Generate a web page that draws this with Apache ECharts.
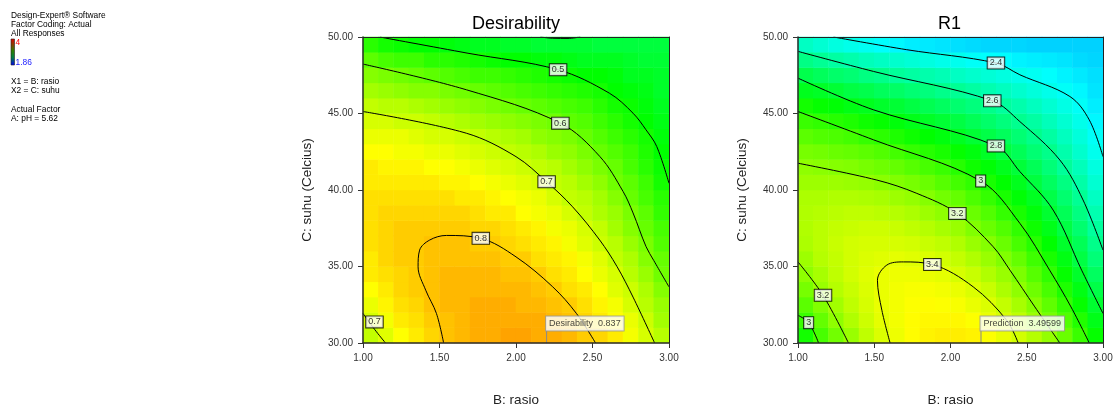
<!DOCTYPE html>
<html>
<head>
<meta charset="utf-8">
<script src="https://cdn.jsdelivr.net/npm/echarts@6/dist/echarts.min.js"></script>
<style>html,body{margin:0;padding:0;background:#fff}#chart{width:1114px;height:407px}</style>
</head>
<body>
<div id="chart"></div>
<script>
// ---- cell centres of the response grids (B: rasio, C: suhu) ----
const xCenters = [1.05,1.15,1.25,1.35,1.45,1.55,1.65,1.75,1.85,1.95,2.05,2.15,2.25,2.35,2.45,2.55,2.65,2.75,2.85,2.95];
const yCenters = [30.5,31.5,32.5,33.5,34.5,35.5,36.5,37.5,38.5,39.5,40.5,41.5,42.5,43.5,44.5,45.5,46.5,47.5,48.5,49.5];
const xTicks = [1.0, 1.5, 2.0, 2.5, 3.0];
const yTicks = [30, 35, 40, 45, 50];

// ---- R1 values, one list per x cell, bottom (30) -> top (50) ----
const r1Cols = [
[2.97,3.05,3.12,3.18,3.23,3.26,3.29,3.30,3.30,3.29,3.26,3.23,3.18,3.12,3.05,2.97,2.87,2.77,2.65,2.52],
[3.08,3.14,3.20,3.25,3.28,3.31,3.32,3.32,3.31,3.29,3.26,3.22,3.17,3.10,3.03,2.94,2.85,2.74,2.62,2.49],
[3.17,3.23,3.27,3.31,3.33,3.34,3.35,3.34,3.32,3.30,3.26,3.21,3.15,3.09,3.01,2.92,2.82,2.71,2.59,2.46],
[3.25,3.30,3.33,3.35,3.37,3.37,3.37,3.35,3.33,3.30,3.25,3.20,3.14,3.07,2.99,2.89,2.79,2.69,2.57,2.44],
[3.33,3.36,3.38,3.39,3.40,3.39,3.38,3.36,3.33,3.29,3.24,3.18,3.12,3.04,2.96,2.87,2.77,2.66,2.54,2.42],
[3.39,3.41,3.42,3.42,3.42,3.40,3.38,3.36,3.32,3.28,3.22,3.16,3.10,3.02,2.94,2.84,2.74,2.64,2.52,2.40],
[3.43,3.44,3.44,3.44,3.43,3.41,3.38,3.35,3.31,3.26,3.20,3.14,3.07,2.99,2.91,2.82,2.72,2.61,2.50,2.38],
[3.47,3.47,3.46,3.45,3.43,3.40,3.37,3.33,3.29,3.24,3.18,3.11,3.04,2.96,2.88,2.79,2.69,2.59,2.48,2.36],
[3.49,3.48,3.47,3.45,3.42,3.39,3.35,3.31,3.26,3.21,3.15,3.08,3.01,2.93,2.85,2.76,2.67,2.57,2.46,2.35],
[3.50,3.48,3.46,3.44,3.41,3.37,3.33,3.28,3.23,3.17,3.11,3.05,2.98,2.90,2.82,2.73,2.64,2.55,2.44,2.34],
[3.50,3.48,3.45,3.42,3.38,3.34,3.30,3.25,3.19,3.14,3.07,3.01,2.94,2.86,2.79,2.70,2.62,2.52,2.43,2.33],
[3.49,3.46,3.42,3.39,3.35,3.30,3.25,3.20,3.15,3.09,3.03,2.96,2.90,2.82,2.75,2.67,2.59,2.50,2.41,2.32],
[3.46,3.42,3.39,3.35,3.30,3.25,3.21,3.15,3.10,3.04,2.98,2.92,2.85,2.78,2.71,2.64,2.56,2.48,2.40,2.31],
[3.42,3.38,3.34,3.29,3.25,3.20,3.15,3.10,3.04,2.98,2.93,2.87,2.80,2.74,2.67,2.60,2.53,2.46,2.39,2.31],
[3.37,3.33,3.28,3.23,3.19,3.14,3.08,3.03,2.98,2.92,2.87,2.81,2.75,2.69,2.63,2.57,2.50,2.44,2.37,2.31],
[3.31,3.26,3.21,3.16,3.11,3.06,3.01,2.96,2.91,2.86,2.80,2.75,2.69,2.64,2.59,2.53,2.47,2.42,2.36,2.30],
[3.24,3.18,3.13,3.08,3.03,2.98,2.93,2.88,2.83,2.78,2.73,2.68,2.64,2.59,2.54,2.49,2.44,2.40,2.35,2.30],
[3.15,3.10,3.04,2.99,2.94,2.89,2.84,2.79,2.75,2.70,2.66,2.61,2.57,2.53,2.49,2.45,2.41,2.37,2.34,2.30],
[3.05,3.00,2.94,2.89,2.84,2.79,2.75,2.70,2.66,2.62,2.58,2.54,2.50,2.47,2.44,2.41,2.38,2.35,2.32,2.30],
[2.94,2.88,2.83,2.78,2.73,2.68,2.64,2.60,2.56,2.52,2.49,2.46,2.43,2.41,2.38,2.36,2.34,2.33,2.31,2.30]
];

// ---- Desirability values, same layout ----
const desCols = [
[0.69,0.71,0.73,0.75,0.77,0.77,0.78,0.78,0.78,0.78,0.77,0.77,0.75,0.73,0.71,0.69,0.66,0.63,0.59,0.54],
[0.72,0.74,0.76,0.77,0.78,0.79,0.79,0.79,0.79,0.78,0.77,0.76,0.75,0.73,0.71,0.68,0.65,0.62,0.57,0.52],
[0.75,0.77,0.78,0.79,0.79,0.80,0.80,0.80,0.79,0.78,0.77,0.76,0.74,0.73,0.70,0.68,0.64,0.61,0.56,0.51],
[0.77,0.78,0.79,0.80,0.80,0.80,0.80,0.80,0.79,0.78,0.77,0.76,0.74,0.72,0.70,0.67,0.63,0.60,0.56,0.50],
[0.79,0.80,0.81,0.81,0.81,0.81,0.81,0.80,0.79,0.78,0.77,0.75,0.73,0.71,0.69,0.66,0.63,0.59,0.54,0.50],
[0.81,0.81,0.82,0.82,0.82,0.81,0.81,0.80,0.79,0.78,0.76,0.75,0.73,0.71,0.68,0.65,0.62,0.58,0.54,0.49],
[0.82,0.82,0.82,0.82,0.82,0.81,0.81,0.80,0.79,0.77,0.76,0.74,0.72,0.70,0.67,0.64,0.61,0.57,0.53,0.48],
[0.83,0.83,0.83,0.82,0.82,0.81,0.80,0.79,0.78,0.77,0.75,0.73,0.71,0.69,0.66,0.63,0.60,0.56,0.52,0.47],
[0.83,0.83,0.83,0.82,0.82,0.81,0.80,0.79,0.77,0.76,0.74,0.72,0.70,0.68,0.65,0.62,0.59,0.56,0.51,0.47],
[0.84,0.83,0.83,0.82,0.81,0.80,0.79,0.78,0.77,0.75,0.73,0.71,0.69,0.67,0.64,0.61,0.58,0.55,0.50,0.46],
[0.84,0.83,0.82,0.82,0.81,0.80,0.78,0.77,0.75,0.74,0.72,0.70,0.68,0.66,0.63,0.60,0.57,0.54,0.50,0.46],
[0.83,0.83,0.82,0.81,0.80,0.78,0.77,0.76,0.74,0.73,0.71,0.69,0.67,0.64,0.62,0.59,0.56,0.53,0.49,0.45],
[0.83,0.82,0.81,0.80,0.78,0.77,0.76,0.74,0.73,0.71,0.69,0.68,0.65,0.63,0.61,0.58,0.55,0.52,0.49,0.45],
[0.82,0.81,0.80,0.78,0.77,0.76,0.74,0.73,0.71,0.69,0.68,0.66,0.64,0.62,0.59,0.57,0.54,0.51,0.48,0.45],
[0.80,0.79,0.78,0.77,0.75,0.74,0.72,0.71,0.69,0.68,0.66,0.64,0.62,0.60,0.58,0.56,0.53,0.50,0.47,0.45],
[0.79,0.77,0.76,0.75,0.73,0.72,0.70,0.69,0.67,0.66,0.64,0.62,0.60,0.58,0.56,0.54,0.52,0.50,0.47,0.44],
[0.77,0.75,0.74,0.72,0.71,0.69,0.68,0.66,0.65,0.63,0.61,0.60,0.58,0.56,0.54,0.52,0.50,0.49,0.47,0.44],
[0.74,0.73,0.71,0.70,0.68,0.67,0.65,0.63,0.62,0.60,0.59,0.57,0.56,0.54,0.52,0.51,0.49,0.47,0.46,0.44],
[0.71,0.70,0.68,0.67,0.65,0.63,0.62,0.60,0.59,0.57,0.56,0.54,0.53,0.52,0.50,0.49,0.48,0.47,0.45,0.44],
[0.68,0.66,0.65,0.63,0.61,0.60,0.58,0.57,0.55,0.54,0.52,0.51,0.50,0.49,0.48,0.47,0.46,0.46,0.45,0.44]
];

// ---- contour lines: [rasio, suhu] ----
const des04 = [[2.16,50.0],[2.24,49.92],[2.34,49.91],[2.42,50.0]];
const des05 = [[1.11,50.0],[1.68,48.95],[2.275,47.86],[2.61,46.33],[2.765,45.02],[2.85,43.93],[2.92,42.84],[3.0,40.44]];
const des06 = [[1.0,48.23],[1.676,46.55],[2.29,44.37],[2.547,42.2],[2.70,39.9],[2.765,38.5],[2.85,36.3],[2.90,35.4],[3.0,33.67]];
const des07 = [[1.0,45.13],[1.676,43.71],[2.0,42.18],[2.2,40.54],[2.37,38.9],[2.547,36.73],[2.66,35.0],[2.765,33.0],[2.906,30.0]];
const des07b = [[1.0,31.93],[1.075,30.9],[1.147,30.0]];
const des08 = [[1.527,30.0],[1.48,31.93],[1.41,33.45],[1.36,34.98],[1.37,36.07],[1.436,36.73],[1.545,37.03],[1.77,36.84],[2.0,35.63],[2.24,33.67],[2.395,31.93],[2.52,30.0]];

const r1c24 = [[1.233,50.0],[1.713,49.17],[2.298,48.30],[2.455,47.53],[2.783,46.11],[2.91,44.58],[3.0,42.18]];
const r1c26 = [[1.0,49.06],[1.495,47.75],[2.274,45.83],[2.455,44.47],[2.717,41.96],[2.869,39.35],[3.0,36.07]];
const r1c28 = [[1.0,47.31],[1.495,45.24],[2.298,42.88],[2.455,41.2],[2.673,38.69],[2.86,34.76],[3.0,31.93]];
const r1c30 = [[1.0,45.13],[1.495,43.28],[2.198,40.59],[2.455,37.82],[2.65,34.76],[2.79,32.36],[2.91,30.0]];
const r1c32 = [[1.0,41.75],[1.517,40.65],[1.779,39.78],[2.045,38.47],[2.28,36.29],[2.39,34.76],[2.553,32.36],[2.717,30.0]];
const r1c34 = [[1.604,30.0],[1.55,32.14],[1.521,34.1],[1.582,35.09],[1.691,35.3],[1.881,35.13],[2.149,33.67],[2.368,31.49],[2.444,30.0]];
const r1c32b = [[1.0,35.3],[1.164,33.12],[1.331,30.0]];
const r1c30b = [[1.0,31.81],[1.07,31.33],[1.135,30.0]];

// ---- contour labels: [text, rasio, suhu] ----
const desLabels = [['0.5',2.275,47.86],['0.6',2.29,44.37],['0.7',2.2,40.54],['0.8',1.77,36.84],['0.7',1.075,31.38]];
const r1Labels = [['2.4',2.298,48.30],['2.6',2.274,45.83],['2.8',2.298,42.88],['3',2.198,40.59],['3.2',2.045,38.47],['3.4',1.881,35.13],['3.2',1.164,33.12],['3',1.07,31.33]];

// ---- prediction flags: [rasio, suhu, caption] ----
const desFlag = [2.2, 30, 'Desirability  0.837'];
const r1Flag = [2.2, 30, 'Prediction  3.49599'];

const palette = ['#0000ff','#00ffff','#00ff00','#ffff00','#ff0000'];
const FONT = 'Liberation Sans';

function heatData(cols) {
  const out = [];
  for (let i = 0; i < cols.length; i++)
    for (let j = 0; j < cols[i].length; j++) out.push([i, j, cols[i][j]]);
  return out;
}
function contour(points, ax) {
  return { type: 'line', xAxisIndex: ax, yAxisIndex: ax, data: points, smooth: 0.35,
    symbol: 'none', silent: true, z: 5, lineStyle: { color: '#000', width: 1 } };
}
function labelSeries(list, ax) {
  return { type: 'scatter', xAxisIndex: ax, yAxisIndex: ax, symbolSize: 1, silent: true, z: 8,
    itemStyle: { color: 'rgba(0,0,0,0)' },
    data: list.map(l => ({ name: l[0], value: [l[1], l[2]] })),
    label: { show: true, position: 'inside', formatter: '{b}', fontSize: 9, fontFamily: FONT, color: '#000',
      backgroundColor: '#fff', borderColor: '#000', borderWidth: 1, padding: [1, 2, 0, 2], lineHeight: 10 } };
}
function flagSeries(flag, ax) {
  return [
    { type: 'line', xAxisIndex: ax, yAxisIndex: ax, symbol: 'none', silent: true, z: 8,
      data: [[flag[0], flag[1]], [flag[0], flag[1] + 0.84]], lineStyle: { color: '#888', width: 1 } },
    { type: 'scatter', xAxisIndex: ax, yAxisIndex: ax, symbolSize: 1, silent: true, z: 9,
      itemStyle: { color: 'rgba(0,0,0,0)' },
      data: [{ name: flag[2], value: [flag[0], flag[1]] }],
      label: { show: true, position: [0, -26], formatter: '{b}', fontSize: 9, fontFamily: FONT, color: '#111',
        backgroundColor: '#fff', borderColor: '#999', borderWidth: 1, padding: [2, 3, 2, 3], lineHeight: 10 } }
  ];
}
const fmt2 = v => v.toFixed(2);
function valueX(grid, name) {
  return { type: 'value', gridIndex: grid, position: 'bottom', min: xTicks[0], max: xTicks[xTicks.length - 1],
    interval: xTicks[1] - xTicks[0], z: 10,
    name: name, nameLocation: 'middle', nameGap: 50,
    nameTextStyle: { fontSize: 13.5, fontFamily: FONT, color: '#222' },
    axisLine: { show: true, onZero: false, lineStyle: { color: '#2b2b2b', width: 1.5 } },
    axisTick: { show: true, length: 5, lineStyle: { color: '#333' } },
    axisLabel: { show: true, margin: 10, fontSize: 10, fontFamily: FONT, color: '#333', formatter: fmt2, showMinLabel: true, showMaxLabel: true },
    splitLine: { show: false } };
}
function valueY(grid, name) {
  return { type: 'value', gridIndex: grid, position: 'left', min: yTicks[0], max: yTicks[yTicks.length - 1],
    interval: yTicks[1] - yTicks[0], z: 10,
    name: name, nameLocation: 'middle', nameGap: 49, nameRotate: 90,
    nameTextStyle: { fontSize: 13.5, fontFamily: FONT, color: '#222' },
    axisLine: { show: true, onZero: false, lineStyle: { color: '#2b2b2b', width: 1.5 } },
    axisTick: { show: true, length: 5, lineStyle: { color: '#333' } },
    axisLabel: { show: true, margin: 10, fontSize: 10, fontFamily: FONT, color: '#333', formatter: fmt2, showMinLabel: true, showMaxLabel: true },
    splitLine: { show: false } };
}
function borderX(grid) {
  return { type: 'value', gridIndex: grid, position: 'top', min: xTicks[0], max: xTicks[xTicks.length - 1], z: 10,
    axisLine: { show: true, onZero: false, lineStyle: { color: '#222', width: 1 } },
    axisTick: { show: false }, axisLabel: { show: false }, splitLine: { show: false } };
}
function borderY(grid) {
  return { type: 'value', gridIndex: grid, position: 'right', min: yTicks[0], max: yTicks[yTicks.length - 1], z: 10,
    axisLine: { show: true, onZero: false, lineStyle: { color: '#222', width: 1 } },
    axisTick: { show: false }, axisLabel: { show: false }, splitLine: { show: false } };
}
function catX(grid) { return { type: 'category', gridIndex: grid, data: xCenters.map(String), show: false }; }
function catY(grid) { return { type: 'category', gridIndex: grid, data: yCenters.map(String), show: false }; }

function box(left, width) {
  return { left: left, top: 37, width: width, height: 306, containLabel: false, outerBoundsMode: 'none' };
}

const infoLines = [
  ['Design-Expert® Software', 15.5, '#000'],
  ['Factor Coding: Actual', 25, '#000'],
  ['All Responses', 34, '#000'],
  ['X1 = B: rasio', 82, '#000'],
  ['X2 = C: suhu', 90.5, '#000'],
  ['Actual Factor', 110, '#000'],
  ['A: pH = 5.62', 119, '#000']
];
const legendMax = '4';
const legendMin = '1.86';

const graphics = infoLines.map(l => ({ type: 'text', x: 11, y: l[1],
  style: { text: l[0], fontSize: 8.4, fontFamily: FONT, fill: l[2], verticalAlign: 'middle', textVerticalAlign: 'middle' } }));
graphics.push({ type: 'rect', shape: { x: 11, y: 39, width: 3.5, height: 26 },
  style: { fill: new echarts.graphic.LinearGradient(0, 0, 0, 1, [
    { offset: 0, color: '#e00000' }, { offset: 0.45, color: '#2f7f00' }, { offset: 0.7, color: '#008040' }, { offset: 1, color: '#0000ee' }]),
    stroke: '#222', lineWidth: 0.6 } });
graphics.push({ type: 'text', x: 15.5, y: 42.5, style: { text: legendMax, fontSize: 8.4, fontFamily: FONT, fill: '#ff0000', verticalAlign: 'middle', textVerticalAlign: 'middle' } });
graphics.push({ type: 'text', x: 15.5, y: 63, style: { text: legendMin, fontSize: 8.4, fontFamily: FONT, fill: '#2020ff', verticalAlign: 'middle', textVerticalAlign: 'middle' } });
graphics.push({ type: 'text', x: 516, y: 24, style: { text: 'Desirability', fontSize: 18, fontFamily: FONT, fill: '#000', align: 'center', textAlign: 'center', verticalAlign: 'middle', textVerticalAlign: 'middle' } });
graphics.push({ type: 'text', x: 949.5, y: 24, style: { text: 'R1', fontSize: 18, fontFamily: FONT, fill: '#000', align: 'center', textAlign: 'center', verticalAlign: 'middle', textVerticalAlign: 'middle' } });

const series = [
  { type: 'heatmap', xAxisIndex: 1, yAxisIndex: 1, data: heatData(desCols), silent: true, z: 1,
    itemStyle: { borderWidth: 0 }, emphasis: { disabled: true }, progressive: 0 },
  { type: 'heatmap', xAxisIndex: 3, yAxisIndex: 3, data: heatData(r1Cols), silent: true, z: 1,
    itemStyle: { borderWidth: 0 }, emphasis: { disabled: true }, progressive: 0 },
  contour(des04, 0), contour(des05, 0), contour(des06, 0), contour(des07, 0), contour(des07b, 0), contour(des08, 0),
  contour(r1c24, 2), contour(r1c26, 2), contour(r1c28, 2), contour(r1c30, 2), contour(r1c32, 2), contour(r1c34, 2),
  contour(r1c32b, 2), contour(r1c30b, 2),
  labelSeries(desLabels, 0), labelSeries(r1Labels, 2)
].concat(flagSeries(desFlag, 0), flagSeries(r1Flag, 2));

const option = {
  animation: false,
  backgroundColor: '#fff',
  textStyle: { fontFamily: FONT },
  grid: [box(363, 306), box(363, 306), box(798, 305), box(798, 305)],
  xAxis: [valueX(0, 'B: rasio'), catX(1), valueX(2, 'B: rasio'), catX(3), borderX(0), borderX(2)],
  yAxis: [valueY(0, 'C: suhu (Celcius)'), catY(1), valueY(2, 'C: suhu (Celcius)'), catY(3), borderY(0), borderY(2)],
  visualMap: [
    { show: false, type: 'continuous', seriesIndex: 0, dimension: 2, min: 0, max: 1, inRange: { color: palette } },
    { show: false, type: 'continuous', seriesIndex: 1, dimension: 2, min: 1.86, max: 4, inRange: { color: palette } }
  ],
  graphic: graphics,
  series: series
};
const chart = echarts.init(document.getElementById('chart'), null, { renderer: 'canvas' });
chart.setOption(option);
</script>
</body>
</html>
